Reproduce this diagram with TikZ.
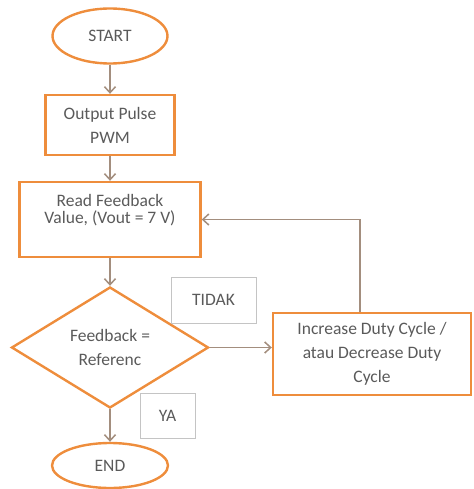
\documentclass[tikz,border=0pt]{standalone}
\usepackage{fontspec}
\setmainfont{Carlito}
\usetikzlibrary{shapes.geometric,arrows.meta,positioning}
\definecolor{boxorange}{HTML}{EE8D3C}
\definecolor{linetan}{HTML}{A38E7E}
\definecolor{txtgray}{HTML}{5A5A5A}
\definecolor{lblgray}{HTML}{C4C4C4}

\begin{document}
\begin{tikzpicture}[x=1pt, y=-1pt, node distance=90pt, font=\fontsize{17.5}{24}\selectfont, text=txtgray,
  term/.style = {draw=boxorange, line width=2.4pt, ellipse, inner sep=0pt},
  proc/.style = {draw=boxorange, line width=2.4pt, rectangle, align=center},
  decide/.style = {draw=boxorange, line width=2.4pt, diamond, align=center, inner sep=0pt},
  lbl/.style = {draw=lblgray, line width=0.8pt, rectangle},
  arr/.style = {draw=linetan, line width=1.5pt, -{Straight Barb[length=6pt,width=11pt]}}]
\useasboundingbox (0,0) rectangle (473,489);

\node[term, minimum width=115pt, minimum height=55pt] (start) at (110,36) {START};
\node[proc, minimum width=129pt, minimum height=60pt] (pwm) [below of=start, node distance=89pt] {Output Pulse\\PWM};
\node[proc, minimum width=181pt, minimum height=75pt, font=\fontsize{17.5}{17}\selectfont] (read) [below of=pwm, node distance=94.5pt] {Read Feedback\\Value, (Vout = 7 V)\\\strut};
\node[decide, minimum width=197pt, minimum height=121pt] (check) [below of=read, node distance=128pt] {Feedback =\\Referenc};
\node[term, minimum width=116pt, minimum height=45pt] (end) [below of=check, node distance=118pt] {END};
\node[proc, minimum width=198pt, minimum height=82pt] (duty) [right of=check, node distance=262pt, yshift=-6.5pt] {Increase Duty Cycle /\\atau Decrease Duty\\Cycle};

\node[lbl, minimum width=85pt, minimum height=46pt] (no) at (213.5,300) {TIDAK};
\node[lbl, minimum width=55pt, minimum height=45pt] (yes) at (167.5,415.5) {YA};

\draw[arr] (start) -- (pwm);
\draw[arr] (pwm) -- (read);
\draw[arr] (read) -- (check);
\draw[arr] (check) -- (end);
\draw[arr] (check) -- (check -| duty.west);
\draw[arr] ([xshift=-12pt]duty.north) |- (read);

\end{tikzpicture}
\end{document}
